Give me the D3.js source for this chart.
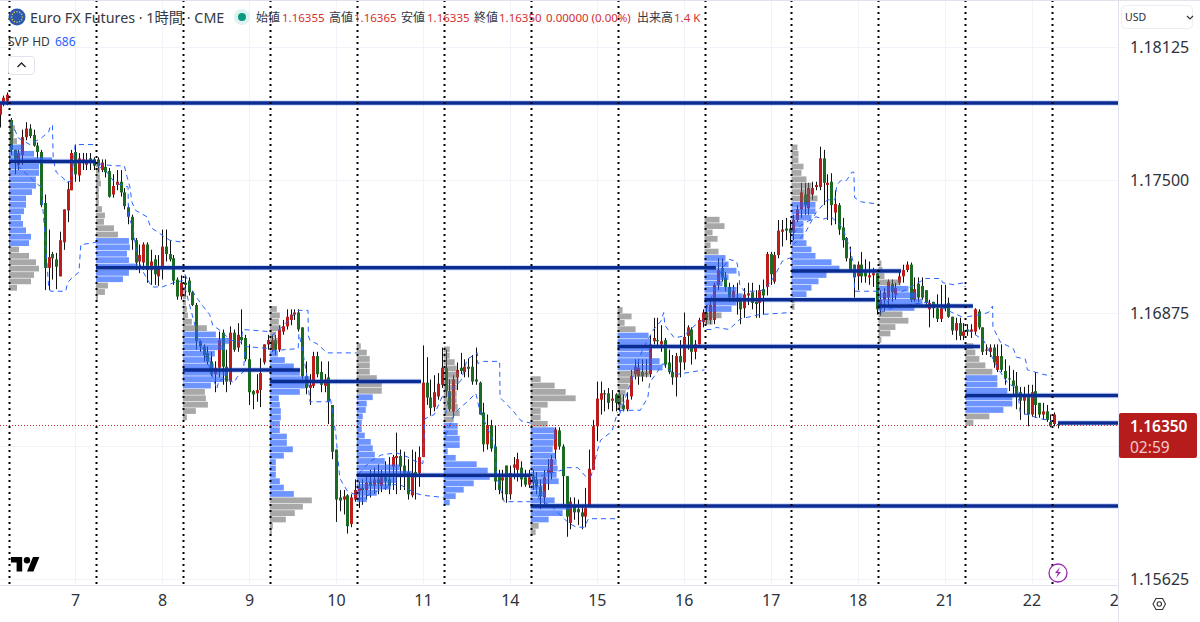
<!DOCTYPE html>
<html>
<head>
<meta charset="utf-8">
<script src="https://cdn.jsdelivr.net/npm/d3@7"></script>
<style>
  html, body { margin: 0; padding: 0; background: #fff; overflow: hidden; }
  svg { display: block; }
  text { font-family: "Noto Sans", "Noto Sans CJK JP", sans-serif; }
</style>
</head>
<body>
<div id="chart"></div>
<script>
// Prices below are points above 1.0 (17635 = 1.17635), bars are [open, high, low, close]
var barsBefore = [[17810,17865,17750,17865],[17865,17900,17850,17890],[17875,17915,17855,17905]];
var bars06 = [[17785,17795,17620,17645],[17645,17645,17530,17600],[17575,17645,17550,17630],[17620,17740,17575,17705],[17705,17775,17690,17745],[17745,17765,17700,17710],[17715,17740,17660,17665],[17665,17680,17605,17635],[17635,17645,17375,17385],[17395,17435,16985,17090],[17090,17270,16985,17140],[17155,17165,17035,17135],[17130,17160,16990,17095],[17050,17260,17050,17220],[17210,17365,17175,17365],[17360,17495,17305,17460],[17455,17645,17455,17630],[17635,17670,17495,17530],[17525,17630,17495,17605],[17585,17630,17550,17600],[17575,17630,17550,17595],[17605,17630,17550,17590],[17600,17610,17550,17570]];
var bars07 = [[17600,17610,17540,17570],[17550,17600,17540,17585],[17565,17600,17515,17540],[17545,17560,17420,17425],[17435,17530,17420,17475],[17480,17550,17455,17495],[17495,17550,17425,17445],[17445,17465,17365,17380],[17375,17385,17295,17330],[17330,17340,17175,17220],[17220,17230,17080,17115],[17120,17200,17065,17150],[17115,17210,17080,17200],[17200,17210,17020,17080],[17080,17175,17010,17120],[17130,17150,17010,17060],[17050,17150,17005,17090],[17095,17270,17035,17190],[17190,17270,17120,17155],[17155,17220,17120,17130],[17135,17150,17010,17030],[17035,17045,16940,16955],[16955,17055,16940,17020]];
var bars08 = [[17020,17055,16955,17010],[17030,17045,16960,16975],[16975,16980,16910,16915],[16915,16925,16705,16745],[16745,16750,16695,16720],[16720,16730,16650,16680],[16690,16720,16635,16650],[16650,16695,16580,16590],[16590,16650,16505,16620],[16620,16790,16575,16750],[16785,16800,16540,16625],[16625,16705,16505,16555],[16555,16815,16540,16785],[16785,16800,16695,16705],[16715,16830,16695,16775],[16765,16895,16730,16750],[16760,16775,16650,16660],[16660,16730,16445,16505],[16510,16515,16425,16495],[16500,16590,16460,16515],[16515,16665,16435,16595],[16645,16730,16635,16730],[16730,16775,16705,16750]];
var bars09 = [[16705,16775,16695,16750],[16750,16775,16680,16705],[16705,16820,16695,16800],[16790,16845,16775,16815],[16815,16895,16800,16860],[16845,16895,16820,16870],[16870,16895,16845,16880],[16880,16895,16790,16800],[16810,16810,16565,16580],[16580,16650,16495,16525],[16525,16590,16445,16540],[16535,16695,16525,16675],[16675,16695,16575,16590],[16600,16650,16505,16540],[16535,16590,16505,16565],[16575,16650,16355,16460],[16445,16445,16190,16225],[16235,16235,15895,16000],[16010,16045,15945,15995],[16000,16045,15930,16015],[16020,16025,15840,15875],[15885,16025,15870,16010],[16000,16095,15990,16045]];
var bars10 = [[16040,16085,15960,16055],[16055,16095,15975,16045],[16045,16120,16000,16080],[16085,16140,16010,16065],[16065,16150,16025,16095],[16095,16165,16025,16075],[16065,16140,16035,16105],[16105,16180,16045,16085],[16095,16200,16025,16065],[16155,16210,16045,16200],[16195,16315,16025,16205],[16205,16235,16045,16155],[16160,16225,16045,16125],[16130,16190,16000,16025],[16020,16235,16010,16125],[16130,16225,16000,16105],[16125,16250,16060,16200],[16200,16725,16200,16550],[16550,16670,16445,16480],[16480,16565,16395,16430],[16435,16585,16415,16505],[16485,16595,16470,16545],[16540,16715,16525,16620]];
var bars11 = [[16620,16705,16480,16510],[16510,16565,16415,16425],[16415,16585,16385,16565],[16575,16645,16515,16610],[16620,16690,16590,16605],[16600,16660,16575,16625],[16625,16665,16575,16615],[16625,16680,16540,16555],[16565,16715,16540,16555],[16550,16555,16400,16400],[16410,16455,16225,16260],[16260,16400,16235,16350],[16350,16375,16225,16240],[16250,16350,16045,16085],[16110,16140,16025,16045],[16090,16140,16000,16105],[16160,16160,15985,16025],[16025,16160,16000,16125],[16150,16200,16095,16165],[16140,16220,16085,16190],[16150,16180,16060,16095],[16105,16140,16060,16070],[16070,16140,16055,16105]];
var bars14 = [[16110,16140,16045,16080],[16095,16130,16025,16060],[16060,16095,15955,16015],[16010,16140,15975,16105],[16125,16190,16045,16140],[16125,16210,16095,16190],[16235,16340,16190,16330],[16325,16340,16235,16250],[16250,16260,15975,16110],[16110,16110,15825,15920],[15890,16010,15860,15990],[15975,16010,15905,15940],[15955,16000,15880,15940],[15940,15975,15860,15920],[15920,16055,15870,15960],[15965,16235,15965,16145],[16140,16375,16140,16345],[16345,16555,16275,16475],[16470,16555,16400,16500],[16500,16515,16415,16495],[16500,16525,16425,16455],[16465,16515,16415,16475],[16495,16500,16415,16455]];
var bars15 = [[16495,16515,16415,16445],[16445,16495,16415,16425],[16425,16505,16415,16470],[16485,16610,16470,16580],[16590,16660,16565,16625],[16580,16660,16540,16620],[16600,16660,16555,16580],[16590,16660,16575,16595],[16590,16775,16575,16730],[16745,16855,16730,16760],[16750,16855,16715,16745],[16730,16820,16695,16745],[16750,16760,16620,16635],[16645,16705,16590,16600],[16600,16680,16540,16575],[16575,16690,16485,16675],[16675,16750,16575,16645],[16645,16880,16610,16765],[16770,16820,16705,16810],[16800,16810,16635,16695],[16695,16750,16660,16730],[16730,16855,16730,16845],[16835,16895,16810,16880]];
var bars16 = [[16880,16915,16825,16845],[16845,16940,16825,16915],[16845,17020,16825,17010],[17010,17135,16985,17080],[17090,17135,17025,17045],[17045,17070,16980,17000],[17000,17020,16930,16950],[16950,17010,16930,16980],[16950,17020,16870,16930],[16940,16950,16825,16895],[16900,16995,16855,16965],[16960,17020,16915,16970],[16975,17020,16895,16925],[16930,16985,16855,16920],[16925,17010,16855,16985],[16990,17035,16870,16960],[17000,17165,16960,17155],[17155,17165,17010,17060],[17025,17165,17015,17150],[17150,17315,17135,17265],[17260,17315,17190,17270],[17275,17325,17220,17265],[17275,17315,17200,17255]];
var bars17 = [[17260,17340,17220,17315],[17315,17385,17305,17365],[17365,17490,17325,17445],[17435,17490,17340,17385],[17370,17490,17340,17465],[17435,17495,17410,17465],[17470,17495,17455,17480],[17470,17660,17455,17605],[17605,17645,17385,17490],[17480,17530,17315,17490],[17495,17535,17290,17385],[17350,17455,17295,17390],[17385,17395,17245,17270],[17280,17325,17185,17220],[17230,17235,17120,17135],[17135,17190,17070,17080],[17105,17105,16950,17045],[17050,17120,16985,17105],[17105,17165,17020,17050],[17080,17130,17020,17050],[17045,17120,17010,17055],[17055,17090,17000,17065],[17065,17065,16870,16895]];
var bars18 = [[16895,16985,16865,16940],[16940,16995,16885,16975],[16950,17035,16915,17025],[17015,17035,16930,16975],[16965,17020,16940,16995],[17020,17080,17010,17050],[17050,17105,17020,17080],[17080,17120,17070,17105],[17105,17115,16930,16940],[16940,17045,16930,16990],[17015,17045,16930,16950],[17005,17045,16940,16950],[16985,16985,16915,16925],[16895,16940,16810,16925],[16930,16930,16855,16900],[16900,16965,16835,16850],[16850,17010,16835,16900],[16910,17010,16885,16900],[16925,16950,16855,16860],[16860,16860,16775,16795],[16795,16855,16750,16830],[16830,16855,16750,16770],[16770,16830,16750,16790]];
var bars21 = [[16800,16825,16770,16790],[16790,16825,16760,16800],[16790,16900,16775,16895],[16885,16895,16800,16810],[16810,16810,16680,16695],[16700,16730,16680,16705],[16695,16730,16670,16715],[16715,16730,16620,16645],[16610,16730,16600,16675],[16675,16730,16600,16610],[16605,16660,16540,16570],[16570,16630,16510,16565],[16560,16610,16495,16535],[16535,16600,16425,16495],[16505,16530,16375,16465],[16465,16530,16400,16485],[16495,16540,16345,16400],[16400,16540,16390,16505],[16510,16600,16385,16445],[16455,16455,16385,16400],[16400,16455,16375,16415],[16415,16445,16365,16375],[16365,16400,16340,16345]];
var bars22 = [[16355,16410,16345,16400],[16355,16365,16335,16350]];
var sessionBars = [bars06, bars07, bars08, bars09, bars10, bars11, bars14, bars15, bars16, bars17, bars18, bars21, bars22];

// Volume profile of each session: price of the first row, then volume per row going down
var profileTop = [17775,17575,16985,16895,16720,16705,16565,16890,17315,17655,17110,16720];
var profileVolumes = [
  [3,6,5,8,14,25,43,30,30,27,27,23,17,17,15,12,14,17,22,20,10,20,27,30,25,22,8],
  [3,4,4,5,3,3,3,6,9,8,18,22,33,34,31,33,42,33,27,12,9,2],
  [2,3,3,4,5,9,24,33,47,42,32,28,31,45,40,28,22,23,25,13,4],
  [7,10,9,11,6,8,5,8,15,24,30,40,35,30,9,10,11,11,10,10,17,17,23,14,6,6,6,10,14,24,42,33,25,16,3,2],
  [4,10,13,13,13,20,25,25,16,10,9,6,5,5,8,14,16,18,28,43,55,40,34,20,10],
  [6,6,11,13,15,15,13,13,13,14,16,10,14,14,16,16,4,12,33,44,46,30,20,12,6],
  [10,24,35,45,17,10,10,17,24,25,23,22,25,26,27,26,28,12,15,24,40,32,18,8,5],
  [5,14,7,18,31,33,33,33,42,45,32,14,11,8,6,5],
  [15,20,8,13,6,14,21,24,32,24,18,32,38,32,27,17,8],
  [6,7,7,12,10,15,20,20,26,24,24,20,12,12,12,15,20,24,40,48,35,27,20,15,3,3],
  [3,4,6,22,30,38,44,36,24,30,17,12,3],
  [8,10,14,20,27,32,32,42,47,47,38,24,8]
];
var valueAreaHigh = [17670,17222,16795,16695,16495,16360,16340,16795,17150,17395,17015,16585];
var valueAreaLow = [17200,17020,16530,16010,15985,15975,15895,16600,16885,16945,16875,16400];

// Developing value area of each session: [bar in session, price]
var devHigh = [
  [[0,17780],[2,17700],[5,17670],[8,17700],[10,17730],[10.5,17760],[11,17760],[11.2,17600],[12,17540],[14,17510],[14.5,17490],[16,17500],[17,17670],[18,17670],[22.5,17670]],
  [[0,17580],[4,17570],[7,17570],[7.7,17520],[8.5,17470],[9,17400],[10,17360],[13,17330],[14,17280],[19,17220],[22.5,17210]],
  [[0,17060],[2.7,16960],[4.8,16910],[6.6,16870],[7.4,16820],[9.8,16790],[12,16750],[15,16740],[15.3,16800],[22.5,16790]],
  [[0,16770],[2,16800],[4.8,16850],[7,16890],[9.6,16890],[9.7,16770],[10.1,16750],[12.2,16730],[14.6,16690],[22.5,16690]],
  [[0,16120],[3,16180],[6,16210],[10,16220],[13,16200],[15,16180],[17,16170],[17.5,16380],[20,16400],[22.5,16500]],
  [[0,16400],[1,16510],[4.1,16560],[5.7,16660],[8.4,16690],[8.5,16640],[10,16650],[14.3,16650],[14.4,16480],[17.7,16420],[20,16370],[22.5,16360]],
  [[0,16100],[4,16120],[8,16140],[9,16150],[12,16150],[14,16110],[15.5,16110],[17,16220],[18,16280],[21,16320],[22.5,16410]],
  [[0,16400],[3,16550],[6,16700],[9,16800],[11,16840],[11.7,16880],[12,16820],[14.5,16760],[17,16770],[20,16820],[22.5,16850]],
  [[0,16900],[2,16980],[4,17080],[6,17130],[8,17120],[8.6,17070],[8.8,17010],[10,16980],[14,16980],[15.5,16990],[18,17050],[20,17120],[22.5,17140]],
  [[0,17200],[3,17250],[6,17350],[9,17410],[11,17410],[11.5,17480],[12.5,17500],[14,17500],[15.5,17540],[16,17540],[16.2,17420],[18,17400],[22.5,17390]],
  [[0,16900],[3,16950],[8,17000],[11,17030],[12,17040],[16,17040],[16.5,17020],[19.5,17010],[22,17020],[22.5,17000]],
  [[0,16860],[3.5,16870],[5.6,16880],[6.7,16910],[6.8,16810],[8.8,16740],[12.2,16710],[13,16670],[15.4,16660],[15.9,16610],[19.9,16590],[22.5,16580]]
];
var devLow = [
  [[0,17600],[3,17550],[6,17500],[8,17470],[9,17250],[10,17000],[10.5,16980],[14.5,16980],[15,17020],[16,17040],[18,17070],[18.5,17200],[19,17200],[22.5,17210]],
  [[0,17570],[2.4,17540],[4.5,17490],[8,17470],[8.1,17330],[9.3,17280],[10.4,17140],[12,17070],[14.3,17000],[17,17000],[20,17020],[22.5,17030]],
  [[0,17000],[3,16800],[6,16650],[8.5,16520],[9,16560],[11,16570],[13,16550],[14,16580],[15.5,16600],[16,16720],[22.5,16710]],
  [[0,16700],[7,16710],[7.2,16780],[8,16720],[9.6,16550],[10.1,16460],[15,16460],[15.5,16480],[17,16300],[18,16100],[20,16040],[22.5,16020]],
  [[0,16000],[5,16040],[9,16070],[11,16070],[13,16050],[15,16030],[17,16020],[22.5,16010]],
  [[0,16300],[2.5,16410],[5.7,16460],[8,16500],[9,16420],[11,16340],[13,16260],[13.5,16110],[15.5,15990],[22.5,15990]],
  [[0,16100],[0.5,16080],[1.8,16000],[5,15970],[9.5,15890],[11.6,15870],[13.7,15870],[14.8,15910],[22.5,15910]],
  [[0,16420],[5.5,16420],[7.5,16480],[8,16550],[10,16600],[11.5,16640],[13,16610],[15.5,16590],[19,16600],[22.5,16610]],
  [[0,16800],[2,16800],[2.5,16810],[6,16800],[9,16850],[14,16870],[22.5,16880]],
  [[0,17250],[2,17290],[6,17330],[8,17320],[10,17330],[13,17280],[15,17180],[16,17100],[16.2,16980],[22.5,16980]],
  [[0,16880],[3,16900],[9,16920],[13,16930],[19,16880],[21.5,16860],[22.5,16860]],
  [[0,16800],[4.3,16750],[8,16620],[10.6,16550],[13.3,16520],[14,16410],[19.4,16380],[22.5,16370]]
];

// Horizontal levels: price, first bar, last bar
var levelPrices = [17865,17590,17090,16610,16555,16115,15970,16720,16940,17075,16910,16490,16360];
var levelFrom = [-6,-0.5,22.5,45.5,68.5,91.5,137.5,160.5,183.5,206.5,229.5,252.5,277];
var levelTo = [300,22.5,186.5,76.5,108.5,137.5,300,256.4,228.6,235.5,254.5,300,300];

var gridPrices = [1.15625, 1.1625, 1.16875, 1.175, 1.18125];
var priceTicks = [1.15625, 1.16875, 1.175, 1.18125];
var dayLabels = ["7","8","9","10","11","14","15","16","17","18","21","22","23"];
var lastPrice = 16350;

// Header texts
var headerName = "Euro FX Futures · 1時間 · CME";
var ohlcLabels = ["始値","高値","安値","終値"];
var ohlcValues = ["1.16355","1.16365","1.16335","1.16350"];

// Chart Params
var svgWidth = 1200;
var svgHeight = 622;
var plotRight = 1118;
var plotBottom = 585;
var barsPerSession = 23;

var svg = d3.select("#chart").append("svg")
  .attr("width", svgWidth)
  .attr("height", svgHeight);

svg.append("defs").append("clipPath").attr("id", "plot")
  .append("rect").attr("width", plotRight).attr("height", plotBottom);
svg.select("defs").append("clipPath").attr("id", "xlabels")
  .append("rect").attr("y", plotBottom).attr("width", plotRight).attr("height", 37);

// Create scaling functions
var xBar = d3.scaleLinear().domain([-0.5, 275.5]).range([9, 1052.3]);
var yPrice = d3.scaleLinear().domain([1.15625, 1.18125]).range([579.3, 47.8]);
var yPoints = function(v) { return yPrice(1 + v / 1e5); };
var xVolume = d3.scaleLinear().domain([0, 100]).range([0, 100]);

var sessionStarts = d3.range(0, 13).map(function(s) { return s * barsPerSession - 0.5; });
var dayBars = dayLabels.map(function(d, i) { return i * barsPerSession + 17; });

var plot = svg.append("g").attr("clip-path", "url(#plot)");

// Grid
plot.append("g").selectAll("line").data(gridPrices).enter().append("line")
  .attr("x1", 0).attr("x2", plotRight)
  .attr("y1", function(d) { return Math.floor(yPrice(d)) + 0.5; })
  .attr("y2", function(d) { return Math.floor(yPrice(d)) + 0.5; })
  .attr("stroke", "#f0f3fa");
plot.append("g").selectAll("line").data(dayBars).enter().append("line")
  .attr("x1", function(d) { return Math.round(xBar(d)) + 0.5; })
  .attr("x2", function(d) { return Math.round(xBar(d)) + 0.5; })
  .attr("y1", 0).attr("y2", plotBottom)
  .attr("stroke", "#f0f3fa");

// Candles
var candles = [];
barsBefore.forEach(function(b, i) { candles.push({ i: i - 3, b: b }); });
sessionBars.forEach(function(list, s) {
  list.forEach(function(b, j) { candles.push({ i: s * barsPerSession + j, b: b }); });
});

var candleGroup = plot.append("g");
candleGroup.selectAll(".wick").data(candles).enter().append("line")
  .attr("class", "wick")
  .attr("x1", function(d) { return Math.round(xBar(d.i)) + 0.5; })
  .attr("x2", function(d) { return Math.round(xBar(d.i)) + 0.5; })
  .attr("y1", function(d) { return yPoints(d.b[1]); })
  .attr("y2", function(d) { return yPoints(d.b[2]); })
  .attr("stroke", "#111");
candleGroup.selectAll(".body").data(candles).enter().append("rect")
  .attr("class", "body")
  .attr("x", function(d) { return Math.round(xBar(d.i)) - 1; })
  .attr("width", 3)
  .attr("y", function(d) { return yPoints(Math.max(d.b[0], d.b[3])); })
  .attr("height", function(d) { return Math.max(1, Math.abs(yPoints(d.b[0]) - yPoints(d.b[3]))); })
  .attr("fill", function(d) { return d.b[3] >= d.b[0] ? "#bd1c1c" : "#1b6b22"; });

// Volume profiles, blue inside the value area and gray outside
var rowStep = 30;
var rowHeight = Math.abs(yPoints(0) - yPoints(rowStep));
profileVolumes.forEach(function(vols, s) {
  var rows = vols.map(function(v, k) { return { v: v, p: profileTop[s] - k * rowStep }; });
  plot.append("g").selectAll("rect").data(rows).enter().append("rect")
    .attr("x", xBar(sessionStarts[s]))
    .attr("y", function(d) { return yPoints(d.p) - rowHeight / 2; })
    .attr("width", function(d) { return xVolume(d.v); })
    .attr("height", rowHeight - 0.6)
    .attr("fill", function(d) {
      return d.p <= valueAreaHigh[s] && d.p >= valueAreaLow[s] ? "rgba(41,98,255,0.68)" : "rgba(105,105,105,0.58)";
    });
});

// Developing value area, dashed
var devLine = d3.line()
  .x(function(d) { return d[2]; })
  .y(function(d) { return yPoints(d[1]); });
[devHigh, devLow].forEach(function(series) {
  series.forEach(function(points, s) {
    var pts = points.map(function(p) { return [p[0], p[1], xBar(s * barsPerSession + p[0])]; });
    plot.append("path")
      .attr("d", devLine(pts))
      .attr("fill", "none")
      .attr("stroke", "#2962ff")
      .attr("stroke-dasharray", "5 4");
  });
});

// Levels
var levels = levelPrices.map(function(p, i) { return { p: p, from: levelFrom[i], to: levelTo[i] }; });
[[5.5, "rgba(41,98,255,0.22)"], [3.5, "#0b2d92"]].forEach(function(style) {
  plot.append("g").selectAll("line").data(levels).enter().append("line")
    .attr("x1", function(d) { return xBar(d.from); })
    .attr("x2", function(d) { return xBar(d.to); })
    .attr("y1", function(d) { return yPoints(d.p); })
    .attr("y2", function(d) { return yPoints(d.p); })
    .attr("stroke", style[1])
    .attr("stroke-width", style[0]);
});

// Last price line
plot.append("line")
  .attr("x1", 0).attr("x2", plotRight)
  .attr("y1", Math.floor(yPoints(lastPrice)) + 0.5)
  .attr("y2", Math.floor(yPoints(lastPrice)) + 0.5)
  .attr("stroke", "#c62828")
  .attr("stroke-dasharray", "1 2");

// Session separators, dotted
plot.append("g").selectAll("line").data(sessionStarts).enter().append("line")
  .attr("x1", function(d) { return Math.round(xBar(d)) + 0.5; })
  .attr("x2", function(d) { return Math.round(xBar(d)) + 0.5; })
  .attr("y1", 0).attr("y2", plotBottom)
  .attr("stroke", "#000")
  .attr("stroke-width", 2)
  .attr("stroke-dasharray", "2 4");

// Panel borders
svg.append("line").attr("x1", 0).attr("x2", svgWidth).attr("y1", 0.5).attr("y2", 0.5).attr("stroke", "#e0e3eb");
svg.append("line").attr("x1", 0).attr("x2", plotRight).attr("y1", plotBottom + 0.5).attr("y2", plotBottom + 0.5).attr("stroke", "#e0e3eb");
svg.append("line").attr("x1", plotRight + 0.5).attr("x2", plotRight + 0.5).attr("y1", 0).attr("y2", svgHeight).attr("stroke", "#e0e3eb");

// Add x-axis to bottom of the display
var bottomAxis = d3.axisBottom(xBar)
  .tickValues(dayBars)
  .tickSize(0)
  .tickPadding(10)
  .tickFormat(function(d, i) { return dayLabels[i]; });
var xAxisGroup = svg.append("g").attr("clip-path", "url(#xlabels)").append("g")
  .attr("transform", "translate(0," + plotBottom + ")")
  .call(bottomAxis);
xAxisGroup.select(".domain").remove();
xAxisGroup.selectAll("text").attr("font-size", 16).attr("fill", "#2e323d")
  .style("font-family", '"Noto Sans", sans-serif');

// Add y-axis to the right side of the display
var rightAxis = d3.axisRight(yPrice)
  .tickValues(priceTicks)
  .tickSize(0)
  .tickPadding(12)
  .tickFormat(d3.format(".5f"));
var yAxisGroup = svg.append("g")
  .attr("transform", "translate(" + plotRight + ",0)")
  .call(rightAxis);
yAxisGroup.select(".domain").remove();
yAxisGroup.selectAll("text").attr("font-size", 16).attr("fill", "#2e323d")
  .style("font-family", '"Noto Sans", sans-serif');

// Price tag
svg.append("rect").attr("x", plotRight + 1).attr("y", 413).attr("width", 78).attr("height", 45).attr("rx", 2).attr("fill", "#b71c1c");
svg.append("text").attr("x", 1130).attr("y", 431.5).attr("fill", "#fff").attr("font-size", 15.5).attr("font-weight", 600)
  .text(d3.format(".5f")(1 + lastPrice / 1e5));
svg.append("text").attr("x", 1130).attr("y", 452.5).attr("fill", "#f3c9c9").attr("font-size", 15.5).text("02:59");

// Currency box
svg.append("rect").attr("x", 1121.5).attr("y", 5.5).attr("width", 71).attr("height", 23).attr("rx", 4)
  .attr("fill", "#fff").attr("stroke", "#eceef3");
svg.append("text").attr("x", 1125).attr("y", 21).attr("font-size", 10.5).attr("fill", "#2a2e39").text("USD");
svg.append("path").attr("d", "M1187 16l3 3 3-3").attr("fill", "none").attr("stroke", "#333").attr("stroke-width", 1.2);

// Header
var flag = svg.append("g").attr("transform", "translate(17,17)");
flag.append("circle").attr("r", 8.5).attr("fill", "#2a58ad");
d3.range(12).forEach(function(k) {
  flag.append("circle")
    .attr("cx", 5.3 * Math.cos(k * Math.PI / 6))
    .attr("cy", 5.3 * Math.sin(k * Math.PI / 6))
    .attr("r", 0.8).attr("fill", "#d9c24c");
});
svg.append("text").attr("x", 30).attr("y", 23).attr("font-size", 14.3).attr("fill", "#333844").text(headerName);
svg.append("circle").attr("cx", 242).attr("cy", 17).attr("r", 8).attr("fill", "#dff2ee");
svg.append("circle").attr("cx", 242).attr("cy", 17).attr("r", 4).attr("fill", "#089981");

var ohlcLabelX = [256, 329, 401, 474];
var ohlcValueX = [282, 354, 427, 499];
ohlcLabels.forEach(function(d, i) {
  svg.append("text").attr("x", ohlcLabelX[i]).attr("y", 21.5).attr("font-size", 12).attr("fill", "#333844").text(d);
  svg.append("text").attr("x", ohlcValueX[i]).attr("y", 21.5).attr("font-size", 11.5).attr("fill", "#d32f2f").text(ohlcValues[i]);
});
svg.append("text").attr("x", 546).attr("y", 21.5).attr("font-size", 11.5).attr("fill", "#d32f2f").text("0.00000 (0.00%)");
svg.append("text").attr("x", 637).attr("y", 21.5).attr("font-size", 12).attr("fill", "#333844").text("出来高");
svg.append("text").attr("x", 674).attr("y", 21.5).attr("font-size", 11.5).attr("fill", "#d32f2f").text("1.4 K");

svg.append("text").attr("x", 8).attr("y", 46).attr("font-size", 12).attr("fill", "#333844").text("SVP HD");
svg.append("text").attr("x", 55).attr("y", 46).attr("font-size", 12).attr("fill", "#2962ff").text("686");

// Collapse button
svg.append("rect").attr("x", 8.5).attr("y", 56.5).attr("width", 26).attr("height", 18).attr("rx", 3)
  .attr("fill", "#fff").attr("stroke", "#e0e3eb");
svg.append("path").attr("d", "M17.5 67l4-4 4 4").attr("fill", "none").attr("stroke", "#222").attr("stroke-width", 1.3);

// Watermark
var logo = svg.append("g").attr("transform", "translate(11,553.8) scale(0.8)").attr("fill", "#000");
logo.append("path").attr("d", "M14 22H7V11H0V4h14v18zM28 22h-8l7.5-18h8L28 22z");
logo.append("circle").attr("cx", 20).attr("cy", 8).attr("r", 4);

// Lightning badge
svg.append("circle").attr("cx", 1058).attr("cy", 573).attr("r", 9).attr("fill", "#fff").attr("stroke", "#9c27b0").attr("stroke-width", 1.3);
svg.append("path").attr("d", "M1060 567l-5 6h3l-2 5 5-6h-3z").attr("fill", "#9c27b0");

// Settings icon
svg.append("path").attr("d", "M1153 604l3-5.5h6.5l3 5.5-3 5.5h-6.5z").attr("fill", "none").attr("stroke", "#333").attr("stroke-width", 1.1);
svg.append("circle").attr("cx", 1159.3).attr("cy", 604).attr("r", 2.2).attr("fill", "none").attr("stroke", "#333").attr("stroke-width", 1.1);
</script>
</body>
</html>
